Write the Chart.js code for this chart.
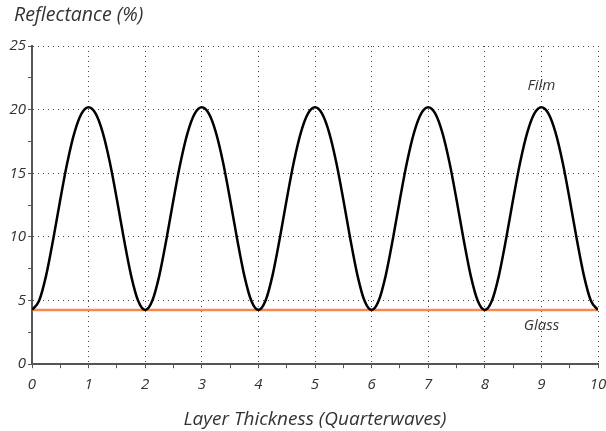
<!DOCTYPE html>
<html>
<head>
<meta charset="utf-8">
<script src="https://cdn.jsdelivr.net/npm/chart.js@4.4.1/dist/chart.umd.min.js"></script>
<style>
  html, body { margin: 0; padding: 0; background: #fff; }
  #wrap { width: 606px; height: 431px; position: relative; }
</style>
</head>
<body>
<div id="wrap"><canvas id="chart"></canvas></div>
<script>
const thickness = [
  0, 0.125, 0.25, 0.375, 0.5, 0.625, 0.75, 0.875,
  1, 1.125, 1.25, 1.375, 1.5, 1.625, 1.75, 1.875,
  2, 2.125, 2.25, 2.375, 2.5, 2.625, 2.75, 2.875,
  3, 3.125, 3.25, 3.375, 3.5, 3.625, 3.75, 3.875,
  4, 4.125, 4.25, 4.375, 4.5, 4.625, 4.75, 4.875,
  5, 5.125, 5.25, 5.375, 5.5, 5.625, 5.75, 5.875,
  6, 6.125, 6.25, 6.375, 6.5, 6.625, 6.75, 6.875,
  7, 7.125, 7.25, 7.375, 7.5, 7.625, 7.75, 7.875,
  8, 8.125, 8.25, 8.375, 8.5, 8.625, 8.75, 8.875,
  9, 9.125, 9.25, 9.375, 9.5, 9.625, 9.75, 9.875,
  10
];

const filmReflectance = [
  4.26, 4.98, 6.98, 9.81, 12.94, 15.86, 18.19, 19.68,
  20.18, 19.68, 18.19, 15.86, 12.94, 9.81, 6.98, 4.98,
  4.26, 4.98, 6.98, 9.81, 12.94, 15.86, 18.19, 19.68,
  20.18, 19.68, 18.19, 15.86, 12.94, 9.81, 6.98, 4.98,
  4.26, 4.98, 6.98, 9.81, 12.94, 15.86, 18.19, 19.68,
  20.18, 19.68, 18.19, 15.86, 12.94, 9.81, 6.98, 4.98,
  4.26, 4.98, 6.98, 9.81, 12.94, 15.86, 18.19, 19.68,
  20.18, 19.68, 18.19, 15.86, 12.94, 9.81, 6.98, 4.98,
  4.26, 4.98, 6.98, 9.81, 12.94, 15.86, 18.19, 19.68,
  20.18, 19.68, 18.19, 15.86, 12.94, 9.81, 6.98, 4.98,
  4.26
];

const glassThickness = [0, 10];
const glassReflectance = [4.26, 4.26];

const seriesLabels = ["Film", "Glass"];
const seriesLabelX = [9, 9];
const seriesLabelY = [21.9, 3];

const xTitle = "Layer Thickness (Quarterwaves)";
const yTitle = "Reflectance (%)";

const textColor = "#333333";
const axisColor = "#555555";
const fontFamily = "'Open Sans', sans-serif";

const toPoints = (xs, ys) => xs.map((x, i) => ({ x, y: ys[i] }));

// y-axis title sits above the plot, plus the in-plot series names
const textPlugin = {
  id: "chartTexts",
  afterDatasetsDraw(chart) {
    const { ctx, scales } = chart;
    ctx.save();
    ctx.fillStyle = textColor;
    ctx.textBaseline = "middle";
    ctx.font = `italic 19.5px ${fontFamily}`;
    ctx.textAlign = "left";
    ctx.fillText(yTitle, 14, 15);
    ctx.font = `italic 15px ${fontFamily}`;
    ctx.textAlign = "center";
    seriesLabels.forEach((label, i) => {
      ctx.fillText(label, scales.x.getPixelForValue(seriesLabelX[i]), scales.y.getPixelForValue(seriesLabelY[i]));
    });
    ctx.restore();
  }
};

new Chart(document.getElementById("chart").getContext("2d"), {
  type: "line",
  data: {
    datasets: [
      {
        label: seriesLabels[0],
        data: toPoints(thickness, filmReflectance),
        borderColor: "#000000",
        borderWidth: 2.5,
        pointRadius: 0,
        cubicInterpolationMode: "monotone",
        fill: false
      },
      {
        label: seriesLabels[1],
        data: toPoints(glassThickness, glassReflectance),
        borderColor: "#f7894f",
        borderWidth: 2.5,
        pointRadius: 0,
        fill: false
      }
    ]
  },
  options: {
    responsive: true,
    maintainAspectRatio: false,
    animation: false,
    layout: { padding: { left: 0, right: 0, top: 46, bottom: 0 } },
    plugins: {
      legend: { display: false },
      tooltip: { enabled: false },
      title: { display: false }
    },
    scales: {
      x: {
        type: "linear",
        min: 0,
        max: 10,
        afterFit: scale => { scale.paddingRight = 8; },
        ticks: {
          stepSize: 0.5,
          color: textColor,
          padding: 8,
          maxRotation: 0,
          autoSkip: false,
          font: { family: fontFamily, size: 15, style: "italic" },
          callback: value => (value % 1 === 0 ? String(value) : "")
        },
        grid: {
          color: ctx => (ctx.tick && ctx.tick.value % 1 === 0 && ctx.tick.value !== 0 ? "#444444" : "transparent"),
          tickColor: axisColor,
          tickLength: 4,
          lineWidth: 1
        },
        border: { color: axisColor, width: 2, dash: [1, 4] },
        title: {
          display: true,
          text: xTitle,
          color: textColor,
          font: { family: fontFamily, size: 19, style: "italic" },
          padding: { top: 6, bottom: 0 }
        }
      },
      y: {
        min: 0,
        max: 25,
        afterFit: scale => { scale.width = 32; },
        ticks: {
          stepSize: 2.5,
          color: textColor,
          padding: 2,
          autoSkip: false,
          font: { family: fontFamily, size: 15, style: "italic" },
          callback: value => (value % 5 === 0 ? String(value) : "")
        },
        grid: {
          color: ctx => (ctx.tick && ctx.tick.value % 5 === 0 && ctx.tick.value !== 0 ? "#444444" : "transparent"),
          tickColor: axisColor,
          tickLength: 4,
          lineWidth: 1
        },
        border: { color: axisColor, width: 2, dash: [1, 4] }
      }
    }
  },
  plugins: [textPlugin]
});
</script>
</body>
</html>
